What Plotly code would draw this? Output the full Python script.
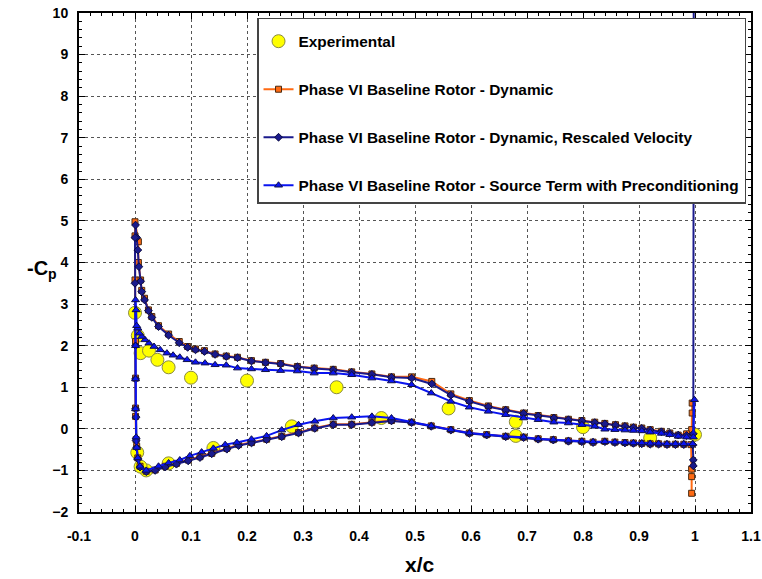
import plotly.graph_objects as go

# ---------------- data ----------------
exp_x = [0.0, 0.005, 0.01, 0.025, 0.04, 0.06, 0.10, 0.20, 0.36, 0.56, 0.68, 0.80, 0.92, 1.0,
         0.68, 0.44, 0.28, 0.14, 0.06, 0.02, 0.01, 0.004]
exp_y = [2.79, 2.24, 1.82, 1.88, 1.66, 1.48, 1.23, 1.16, 1.0, 0.49, 0.17, 0.04, -0.22, -0.14,
         -0.17, 0.26, 0.06, -0.46, -0.83, -1.0, -0.91, -0.57]

# Phase VI Baseline Rotor - Dynamic (orange)
dyn_x = [0.995, 0.995, 0.994, 0.985, 0.97, 0.955, 0.94, 0.92, 0.905, 0.89, 0.875, 0.858, 0.839,
         0.821, 0.798, 0.774, 0.748, 0.72, 0.694, 0.662, 0.631, 0.597, 0.564, 0.53, 0.494, 0.458,
         0.423, 0.387, 0.354, 0.32, 0.29, 0.26, 0.233, 0.208, 0.183, 0.163, 0.143, 0.124, 0.108,
         0.094, 0.079, 0.06, 0.042, 0.03, 0.024, 0.017, 0.012, 0.01, 0.006, 0.006, 0.0,
         0.0, 0.0, 0.001, 0.001, 0.001, 0.001, 0.002, 0.003, 0.005, 0.009, 0.02, 0.036, 0.054,
         0.074, 0.095, 0.116, 0.137, 0.164, 0.185, 0.208, 0.235, 0.262, 0.292, 0.321, 0.354,
         0.387, 0.423, 0.458, 0.494, 0.529, 0.564, 0.597, 0.628, 0.662, 0.694, 0.72, 0.747,
         0.774, 0.798, 0.818, 0.839, 0.857, 0.875, 0.89, 0.905, 0.92, 0.935, 0.95, 0.965, 0.98,
         0.993, 0.994, 0.994, 0.994]
dyn_y = [0.62, 0.38, -0.02, -0.12, -0.15, -0.1, -0.06, -0.02, 0.02, 0.04, 0.07, 0.1, 0.13,
         0.16, 0.2, 0.23, 0.27, 0.32, 0.38, 0.46, 0.55, 0.68, 0.84, 1.14, 1.25, 1.25,
         1.32, 1.37, 1.43, 1.46, 1.5, 1.57, 1.6, 1.64, 1.72, 1.75, 1.8, 1.88, 1.92,
         1.98, 2.1, 2.28, 2.48, 2.7, 2.86, 3.14, 3.33, 3.58, 4.0, 4.5, 4.98,
         4.64, 3.58, 2.1, 1.22, 0.5, 0.3, -0.26, -0.42, -0.7, -0.9, -1.02, -0.99, -0.9,
         -0.83, -0.75, -0.67, -0.59, -0.47, -0.38, -0.33, -0.25, -0.18, -0.09, 0.02, 0.11,
         0.11, 0.16, 0.2, 0.16, 0.07, -0.02, -0.1, -0.14, -0.18, -0.2, -0.24, -0.26,
         -0.29, -0.3, -0.32, -0.3, -0.32, -0.33, -0.34, -0.35, -0.36, -0.36, -0.37, -0.37, -0.37,
         -0.38, -0.97, -1.15, -1.55]

# Phase VI Baseline Rotor - Dynamic, Rescaled Velocity (navy)
res_x = [0.998, 0.997, 0.985, 0.97, 0.955, 0.94, 0.92, 0.905, 0.89, 0.875, 0.858, 0.839,
         0.821, 0.798, 0.774, 0.748, 0.72, 0.694, 0.662, 0.631, 0.597, 0.564, 0.53, 0.494, 0.458,
         0.423, 0.387, 0.354, 0.32, 0.29, 0.26, 0.233, 0.208, 0.183, 0.163, 0.143, 0.124, 0.108,
         0.094, 0.079, 0.06, 0.042, 0.03, 0.024, 0.017, 0.012, 0.01, 0.007, 0.005, 0.003, 0.001,
         0.0, 0.0, 0.001, 0.001, 0.001, 0.002, 0.002, 0.003, 0.005, 0.009, 0.02, 0.036, 0.054,
         0.074, 0.095, 0.116, 0.137, 0.164, 0.185, 0.208, 0.235, 0.262, 0.292, 0.321, 0.354,
         0.387, 0.423, 0.458, 0.494, 0.529, 0.564, 0.597, 0.628, 0.662, 0.694, 0.72, 0.747,
         0.774, 0.798, 0.818, 0.839, 0.857, 0.875, 0.89, 0.905, 0.92, 0.935, 0.95, 0.965, 0.98,
         0.996, 0.997, 0.997]
res_y = [14.0, -0.12, -0.16, -0.15, -0.11, -0.07, -0.03, 0.01, 0.03, 0.06, 0.09, 0.12,
         0.15, 0.19, 0.22, 0.26, 0.31, 0.37, 0.45, 0.53, 0.66, 0.81, 1.08, 1.22, 1.24,
         1.31, 1.36, 1.42, 1.45, 1.49, 1.56, 1.59, 1.63, 1.71, 1.74, 1.79, 1.86, 1.9,
         1.96, 2.07, 2.25, 2.46, 2.68, 2.84, 3.1, 3.3, 3.55, 3.9, 4.3, 4.6, 4.9,
         4.6, 3.5, 2.0, 1.2, 0.48, 0.28, -0.28, -0.45, -0.72, -0.92, -1.03, -1.0, -0.92,
         -0.85, -0.77, -0.69, -0.6, -0.49, -0.4, -0.34, -0.26, -0.19, -0.1, 0.01, 0.1,
         0.1, 0.15, 0.19, 0.15, 0.06, -0.03, -0.11, -0.15, -0.19, -0.21, -0.25, -0.27,
         -0.3, -0.31, -0.33, -0.31, -0.33, -0.34, -0.35, -0.36, -0.37, -0.37, -0.38, -0.38, -0.38,
         -0.38, -0.75, -0.89]

# Phase VI Baseline Rotor - Source Term with Preconditioning (blue)
src_x = [0.999, 0.997, 0.985, 0.97, 0.955, 0.94, 0.92, 0.905, 0.89, 0.875, 0.857, 0.839,
         0.821, 0.798, 0.774, 0.748, 0.72, 0.694, 0.662, 0.631, 0.597, 0.564, 0.529, 0.494, 0.458,
         0.423, 0.387, 0.354, 0.32, 0.29, 0.26, 0.233, 0.208, 0.183, 0.163, 0.143, 0.125, 0.108,
         0.093, 0.08, 0.068, 0.057, 0.045, 0.034, 0.025, 0.018, 0.012, 0.008, 0.005, 0.003, 0.002,
         0.001, 0.001, 0.001, 0.001, 0.002, 0.003, 0.005, 0.009, 0.02, 0.042, 0.06,
         0.08, 0.098, 0.119, 0.14, 0.161, 0.182, 0.208, 0.235, 0.262, 0.292, 0.321, 0.354,
         0.387, 0.423, 0.458, 0.494, 0.529, 0.564, 0.597, 0.628, 0.662, 0.694, 0.72, 0.747,
         0.774, 0.798, 0.818, 0.839, 0.857, 0.875, 0.89, 0.905, 0.92, 0.935, 0.95, 0.965, 0.98,
         0.996]
src_y = [0.7, -0.2, -0.2, -0.18, -0.14, -0.11, -0.08, -0.05, -0.04, -0.03, -0.02, -0.01,
         0.06, 0.1, 0.14, 0.16, 0.22, 0.26, 0.34, 0.42, 0.52, 0.66, 0.86, 1.06, 1.15,
         1.22, 1.3, 1.34, 1.34, 1.39, 1.4, 1.42, 1.44, 1.46, 1.53, 1.54, 1.58, 1.6,
         1.66, 1.72, 1.77, 1.82, 1.9, 1.98, 2.06, 2.14, 2.22, 2.3, 2.42, 2.48, 2.86,
         3.1, 2.0, 1.2, 0.48, -0.2, -0.45, -0.7, -0.9, -1.0, -0.9, -0.82,
         -0.75, -0.65, -0.56, -0.47, -0.38, -0.33, -0.25, -0.17, -0.03, 0.1, 0.18, 0.26,
         0.28, 0.3, 0.26, 0.16, 0.07, -0.02, -0.1, -0.14, -0.18, -0.2, -0.24, -0.26,
         -0.28, -0.3, -0.31, -0.31, -0.32, -0.33, -0.34, -0.34, -0.35, -0.35, -0.36, -0.36, -0.36,
         -0.36]

x_ticks = [-0.1, 0, 0.1, 0.2, 0.3, 0.4, 0.5, 0.6, 0.7, 0.8, 0.9, 1, 1.1]
x_tick_text = ["-0.1", "0", "0.1", "0.2", "0.3", "0.4", "0.5", "0.6", "0.7", "0.8", "0.9", "1", "1.1"]
y_ticks = list(range(-2, 11))

# ---------------- figure ----------------
FONT = "Liberation Sans, Arial, sans-serif"
fig = go.Figure()

fig.add_trace(go.Scatter(
    x=exp_x, y=exp_y, mode="markers", name="Experimental", legendgroup="a",
    marker=dict(symbol="circle", size=13, color="#FFFF00", line=dict(color="#8a8a40", width=1)),
))
fig.add_trace(go.Scatter(
    x=dyn_x, y=dyn_y, mode="lines+markers", name="Phase VI Baseline Rotor - Dynamic", legendgroup="b",
    line=dict(color="#FF6A13", width=2),
    marker=dict(symbol="square", size=6, color="#FF6A13", line=dict(color="#4a2a10", width=1)),
))
fig.add_trace(go.Scatter(
    x=res_x, y=res_y, mode="lines+markers", name="Phase VI Baseline Rotor - Dynamic, Rescaled Velocity",
    legendgroup="c",
    line=dict(color="#1A1A8C", width=2),
    marker=dict(symbol="diamond", size=6, color="#1A1A8C", line=dict(color="#0a0a40", width=1)),
))
fig.add_trace(go.Scatter(
    x=src_x, y=src_y, mode="lines+markers", name="Phase VI Baseline Rotor - Source Term with Preconditioning",
    legendgroup="d",
    line=dict(color="#0A14F0", width=2),
    marker=dict(symbol="triangle-up", size=7, color="#0A14F0", line=dict(color="#10104a", width=1)),
))

axis_common = dict(
    showline=True, linewidth=2, linecolor="black", mirror="allticks",
    ticks="inside", ticklen=6, tickwidth=1, tickcolor="black",
    showgrid=True, gridcolor="#555555", gridwidth=1, griddash="3px,3px",
    zeroline=False, automargin=False,
    tickfont=dict(family=FONT, size=14, color="black", weight="bold"),
)

fig.update_xaxes(
    range=[-0.1, 1.1], tickvals=x_ticks, ticktext=x_tick_text,
    minor=dict(dtick=0.02, ticks="inside", ticklen=3, tickcolor="black", showgrid=False),
    ticklabelstandoff=10,
    **axis_common,
)
fig.update_yaxes(
    range=[-2, 10], tickvals=y_ticks,
    minor=dict(dtick=0.2, ticks="inside", ticklen=3, tickcolor="black", showgrid=False),
    ticklabelstandoff=6,
    **axis_common,
)

fig.add_annotation(text="<b>-C<sub>p</sub></b>", xref="paper", yref="paper",
                   x=-0.055, y=0.485, xanchor="center", yanchor="middle", showarrow=False,
                   font=dict(family=FONT, size=20, color="black"))
fig.add_annotation(text="<b>x/c</b>", xref="paper", yref="paper",
                   x=0.507, y=-0.106, xanchor="center", yanchor="middle", showarrow=False,
                   font=dict(family=FONT, size=21, color="black"))

fig.update_layout(
    width=762, height=579,
    margin=dict(l=79, r=11, t=13, b=67),
    paper_bgcolor="white", plot_bgcolor="white",
    showlegend=True,
    legend=dict(
        x=0.9926, y=0.99, xanchor="right", yanchor="top",
        bgcolor="white", bordercolor="#444444", borderwidth=1.5,
        font=dict(family=FONT, size=15.4, color="black", weight="bold"),
        tracegroupgap=25, itemwidth=30,
        title=dict(text=" ", font=dict(size=4)),
    ),
)

fig.write_html("out.html")
